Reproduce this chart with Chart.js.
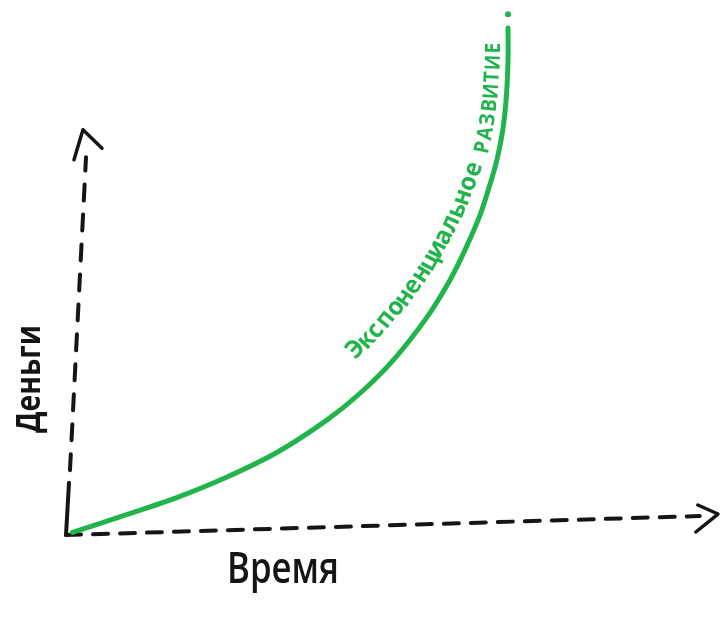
<!DOCTYPE html>
<html>
<head>
<meta charset="utf-8">
<script src="https://cdn.jsdelivr.net/npm/chart.js@4/dist/chart.umd.min.js"></script>
<style>
  html, body { margin: 0; padding: 0; background: #ffffff; }
  #wrap { position: relative; width: 722px; height: 620px; }
</style>
</head>
<body>
<div id="wrap"><canvas id="c"></canvas></div>
<script>
// ---- data (time units 0..10, money units 0..100) ----
const curveTime  = [0.1, 0.55, 0.94, 1.70, 2.47, 3.24, 4.00, 4.51, 5.02, 5.54, 5.89, 6.12, 6.35, 6.50, 6.61, 6.70, 6.75, 6.78, 6.78];
const curveMoney = [0.5, 2.3, 3.9, 7.1, 11.0, 15.7, 21.8, 26.9, 33.2, 41.4, 48.4, 54.1, 60.7, 66.4, 71.2, 76.9, 82.5, 90.1, 96.2];
const dotTime  = [6.78];
const dotMoney = [98.8];

const yAxisSolidTime  = [0, 0.046];
const yAxisSolidMoney = [0, 9.9];
const yAxisDashTime   = [0.061, 0.307];
const yAxisDashMoney  = [12.3, 71.7];
const yArrowTime  = [0.123, 0.26, 0.552];
const yArrowMoney = [71.2, 76.9, 73.4];

const xAxisDashTime  = [0, 9.72];
const xAxisDashMoney = [0, 3.6];
const xArrowTime  = [9.69, 10.0, 9.66];
const xArrowMoney = [5.69, 3.98, 0.57];

const xAxisLabel = 'Время';
const yAxisLabel = 'Деньги';
const curveWord1 = 'Экспоненциальное';
const curveWord2 = 'РАЗВИТИЕ';

const GREEN = '#22b44c';
const INK = '#151515';

const pts = (xs, ys) => xs.map((x, i) => ({ x: x, y: ys[i] }));

function lineDs(data, color, width, dash) {
  return {
    data: data, borderColor: color, backgroundColor: color, borderWidth: width,
    borderDash: dash || [], pointRadius: 0, showLine: true, fill: false,
    tension: 0, clip: false, borderCapStyle: 'round', borderJoinStyle: 'round'
  };
}

const curveDs = lineDs(pts(curveTime, curveMoney), GREEN, 5);
curveDs.tension = 0.3;

const labelPlugin = {
  id: 'sketchLabels',
  afterDatasetsDraw(chart) {
    const ctx = chart.ctx;
    // axis labels
    ctx.save();
    ctx.fillStyle = INK;
    ctx.font = '600 44px "Open Sans"';
    ctx.textAlign = 'center';
    ctx.textBaseline = 'alphabetic';
    ctx.fillText(xAxisLabel, 283, 583, 112);
    ctx.restore();

    ctx.save();
    ctx.fillStyle = INK;
    ctx.font = '700 34px "Open Sans"';
    ctx.textAlign = 'center';
    ctx.textBaseline = 'alphabetic';
    ctx.translate(40, 379);
    ctx.rotate(-Math.PI / 2);
    ctx.fillText(yAxisLabel, 0, 0, 108);
    ctx.restore();

    // text along the curve
    const meta = chart.getDatasetMeta(0);
    const p = meta.data.map(e => ({ x: e.x, y: e.y }));
    const cum = [0];
    for (let i = 1; i < p.length; i++) {
      cum.push(cum[i - 1] + Math.hypot(p[i].x - p[i - 1].x, p[i].y - p[i - 1].y));
    }
    const at = (s) => {
      s = Math.max(0, Math.min(cum[cum.length - 1], s));
      let i = 1;
      while (i < cum.length - 1 && cum[i] < s) i++;
      const t = (s - cum[i - 1]) / (cum[i] - cum[i - 1] || 1);
      return { x: p[i - 1].x + (p[i].x - p[i - 1].x) * t, y: p[i - 1].y + (p[i].y - p[i - 1].y) * t };
    };
    const drawWord = (word, s0, step, d0, d1, font, sx) => {
      ctx.save();
      ctx.fillStyle = GREEN;
      ctx.font = font;
      ctx.textAlign = 'center';
      ctx.textBaseline = 'middle';
      const chars = Array.from(word);
      chars.forEach((ch, i) => {
        const s = s0 + i * step;
        const P = at(s), A = at(s - 12), B = at(s + 12);
        const ang = Math.atan2(B.y - A.y, B.x - A.x);
        const d = d0 + (d1 - d0) * (chars.length > 1 ? i / (chars.length - 1) : 0);
        const x = P.x + Math.sin(ang) * d;
        const y = P.y - Math.cos(ang) * d;
        ctx.save();
        ctx.translate(x, y);
        ctx.rotate(ang);
        ctx.scale(sx, 1);
        ctx.fillText(ch, 0, 0);
        ctx.restore();
      });
      ctx.restore();
    };
    drawWord(curveWord1, 350, 15.4, 34, 20, '700 25px "Open Sans"', 0.95);
    drawWord(curveWord2, 606, 14.7, 16, 14, '700 21px "Open Sans"', 0.9);
  }
};

new Chart(document.getElementById('c'), {
  type: 'scatter',
  data: {
    datasets: [
      curveDs,
      { data: pts(dotTime, dotMoney), pointRadius: 3, pointBackgroundColor: GREEN, pointBorderWidth: 0, showLine: false, clip: false },
      lineDs(pts(yAxisSolidTime, yAxisSolidMoney), INK, 4),
      lineDs(pts(yAxisDashTime, yAxisDashMoney), INK, 4, [16, 14]),
      lineDs(pts(yArrowTime, yArrowMoney), INK, 3.5),
      lineDs(pts(xAxisDashTime, xAxisDashMoney), INK, 4, [15, 12]),
      lineDs(pts(xArrowTime, xArrowMoney), INK, 3.5)
    ]
  },
  options: {
    responsive: true,
    maintainAspectRatio: false,
    animation: false,
    layout: { padding: { left: 66, right: 4, top: 8, bottom: 85 } },
    plugins: { legend: { display: false }, tooltip: { enabled: false } },
    scales: {
      x: { type: 'linear', min: 0, max: 10, display: false },
      y: { type: 'linear', min: 0, max: 100, display: false }
    }
  },
  plugins: [labelPlugin]
});
</script>
</body>
</html>
